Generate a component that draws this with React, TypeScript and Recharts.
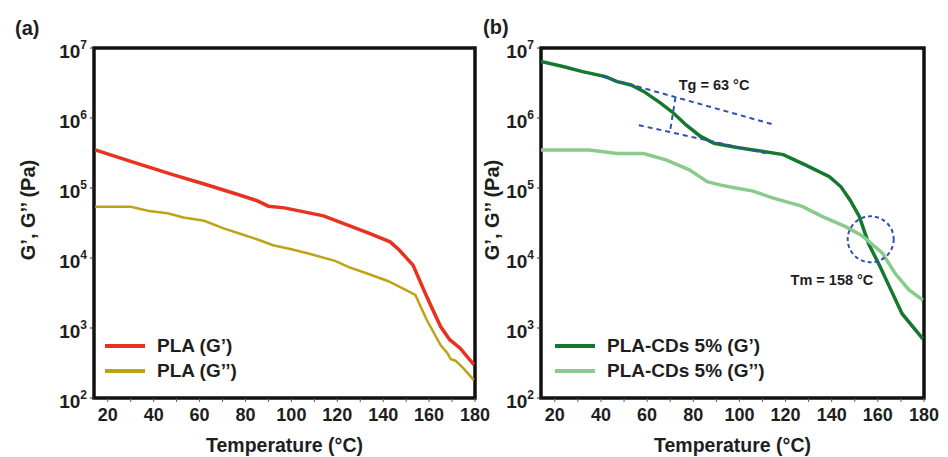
import React from "react";
import {
  LineChart,
  Line,
  XAxis,
  YAxis,
  Legend,
  ReferenceArea,
  ReferenceLine,
  ReferenceDot,
} from "recharts";

// (a) neat PLA
const plaG1Temp = [14.5, 30, 49, 62, 76, 85, 90, 97, 114, 124, 134, 143, 147, 153, 159, 165, 169, 173.5, 179.5];
const plaG1 = [3.5e5, 2.4e5, 1.53e5, 1.14e5, 8.2e4, 6.6e4, 5.5e4, 5.2e4, 4.0e4, 3.0e4, 2.25e4, 1.7e4, 1.3e4, 7.9e3, 2.8e3, 1.05e3, 680, 515, 300];
const plaG2Temp = [14.5, 30, 38, 46, 53, 62, 70.5, 78, 85, 92, 100, 107, 119, 125, 133, 142, 147, 154, 159, 165, 168, 169.5, 171.5, 175, 179.5];
const plaG2 = [5.4e4, 5.4e4, 4.7e4, 4.35e4, 3.8e4, 3.4e4, 2.65e4, 2.2e4, 1.85e4, 1.52e4, 1.33e4, 1.17e4, 9.1e3, 7.4e3, 6.0e3, 4.7e3, 3.9e3, 2.96e3, 1.3e3, 572, 435, 357, 341, 265, 180];

// (b) PLA-CDs 5%
const cdG1Temp = [14, 24, 32, 42, 47, 53, 58.5, 66, 71.5, 77, 83, 89, 99, 106, 119, 129, 139, 144, 148, 152, 156, 161, 165, 170.5, 179.5];
const cdG1 = [6.4e6, 5.4e6, 4.6e6, 3.9e6, 3.3e6, 2.96e6, 2.4e6, 1.62e6, 1.17e6, 7.9e5, 5.5e5, 4.35e5, 3.8e5, 3.5e5, 3.0e5, 2.1e5, 1.45e5, 1.04e5, 6.7e4, 3.9e4, 1.6e4, 7.5e3, 3.9e3, 1.6e3, 700];
const cdG2Temp = [14, 35, 47, 58.5, 68.5, 78.5, 86, 92, 99, 105.5, 114, 127, 136, 146, 153, 162, 167.5, 173.5, 179.5];
const cdG2 = [3.5e5, 3.5e5, 3.1e5, 3.1e5, 2.5e5, 1.8e5, 1.23e5, 1.1e5, 9.9e4, 9.1e4, 7.3e4, 5.5e4, 3.9e4, 2.8e4, 2.1e4, 1.17e4, 6.0e3, 3.5e3, 2.5e3];

const xTicks = [20, 30, 40, 50, 60, 70, 80, 90, 100, 110, 120, 130, 140, 150, 160, 170, 180];
const yTicks = [1e2, 1e3, 1e4, 1e5, 1e6, 1e7];

// Tg tangents and Tm circle (annotation, in data units)
const tgUpper = [{ x: 40.5, y: 3.9e6 }, { x: 114, y: 8.2e5 }];
const tgLower = [{ x: 56.4, y: 7.9e5 }, { x: 111.4, y: 3.13e5 }];
const tgBracket = [{ x: 72.3, y: 1.98e6 }, { x: 69.9, y: 6.4e5 }];

const RED = "#e8321f";
const OLIVE = "#bfa316";
const DGREEN = "#16772f";
const LGREEN = "#88cb8c";
const BLUE = "#3150b4";
const INK = "#1e1e1e";
const FONT = "'Liberation Sans', Arial, sans-serif";

const toPts = (t: number[], v: number[]) => t.map((x, i) => ({ t: x, v: v[i] }));

const LogTick = (props: any) => {
  const { x, y, payload } = props;
  const exp = Math.round(Math.log10(payload.value));
  return (
    <text x={x - 1} y={y + 10} textAnchor="end" fontSize={19} fontWeight="bold" fill={INK}>
      <tspan>10</tspan>
      <tspan dy={-9} fontSize={12}>
        {exp}
      </tspan>
    </text>
  );
};

const YTitle = (cx: number) => (props: any) => {
  const cy = 210;
  return (
    <text
      x={cx}
      y={cy}
      transform={`rotate(-90 ${cx} ${cy})`}
      textAnchor="middle"
      dominantBaseline="central"
      fontSize={20}
      fontWeight="bold"
      fill={INK}
    >
      G’, G’’ (Pa)
    </text>
  );
};

const LegendBox = (props: any) => {
  const { payload } = props;
  return (
    <div>
      {(payload || []).map((p: any) => (
        <div key={p.value} style={{ display: "flex", alignItems: "center", height: 25 }}>
          <div style={{ width: 40, height: 4, background: p.color, marginRight: 12 }} />
          <span style={{ fontSize: 19, fontWeight: "bold", color: INK, whiteSpace: "nowrap" }}>{p.value}</span>
        </div>
      ))}
    </div>
  );
};

function Panel({
  width,
  yAxisWidth,
  rightMargin,
  titleX,
  legendLeft,
  children,
}: {
  width: number;
  yAxisWidth: number;
  rightMargin: number;
  titleX: number;
  legendLeft: number;
  children: React.ReactNode;
}) {
  return (
    <LineChart width={width} height={457} margin={{ top: 48, right: rightMargin, bottom: 0, left: 0 }}>
      <XAxis
        dataKey="t"
        type="number"
        domain={[14, 180]}
        ticks={xTicks}
        allowDataOverflow
        height={59}
        axisLine={false}
        tickLine={{ stroke: "#555" }}
        tickSize={4}
        tickMargin={6}
        tick={{ fontSize: 18, fontWeight: "bold", fill: INK }}
        tickFormatter={(v: number) => (v % 20 === 0 ? String(v) : "")}
        label={{
          value: "Temperature (°C)",
          position: "insideBottom",
          offset: 5,
          fontSize: 19.5,
          fontWeight: "bold",
          fill: INK,
        }}
      />
      <YAxis
        type="number"
        scale="log"
        domain={[1e2, 1e7]}
        ticks={yTicks}
        allowDataOverflow
        width={yAxisWidth}
        axisLine={false}
        tickLine={{ stroke: "#333" }}
        tickSize={4}
        tickMargin={2}
        tick={<LogTick />}
        label={YTitle(titleX)}
      />
      <ReferenceArea x1={14} x2={180} y1={1e2} y2={1e7} fill="none" stroke="#111" strokeWidth={3.5} />
      {children}
      <Legend
        layout="vertical"
        align="center"
        verticalAlign="middle"
        content={<LegendBox />}
        wrapperStyle={{ left: legendLeft, top: 333, width: "auto" }}
      />
    </LineChart>
  );
}

export default function App() {
  return (
    <div style={{ position: "relative", width: 948, height: 457, background: "#fff", fontFamily: FONT }}>
      <style>{"body{margin:0}"}</style>
      <div style={{ position: "absolute", left: 15, top: 17, fontSize: 20, fontWeight: "bold", color: INK }}>(a)</div>
      <div style={{ position: "absolute", left: 483, top: 16, fontSize: 20, fontWeight: "bold", color: INK }}>(b)</div>

      <div style={{ position: "absolute", left: 0, top: 0 }}>
        <Panel width={500} yAxisWidth={94} rightMargin={25} titleX={28} legendLeft={105}>
          <Line
            data={toPts(plaG1Temp, plaG1)}
            dataKey="v"
            name="PLA (G’)"
            stroke={RED}
            strokeWidth={3.5}
            dot={false}
            isAnimationActive={false}
          />
          <Line
            data={toPts(plaG2Temp, plaG2)}
            dataKey="v"
            name="PLA (G’’)"
            stroke={OLIVE}
            strokeWidth={2.5}
            dot={false}
            isAnimationActive={false}
          />
        </Panel>
      </div>

      <div style={{ position: "absolute", left: 478, top: 0 }}>
        <Panel width={470} yAxisWidth={63} rightMargin={24} titleX={14} legendLeft={77}>
          <Line
            data={toPts(cdG1Temp, cdG1)}
            dataKey="v"
            name="PLA-CDs 5% (G’)"
            stroke={DGREEN}
            strokeWidth={3.5}
            dot={false}
            isAnimationActive={false}
          />
          <Line
            data={toPts(cdG2Temp, cdG2)}
            dataKey="v"
            name="PLA-CDs 5% (G’’)"
            stroke={LGREEN}
            strokeWidth={3.5}
            dot={false}
            isAnimationActive={false}
          />
          <ReferenceLine segment={tgUpper} stroke={BLUE} strokeWidth={2} strokeDasharray="5 4" />
          <ReferenceLine segment={tgLower} stroke={BLUE} strokeWidth={2} strokeDasharray="5 4" />
          <ReferenceLine segment={tgBracket} stroke={BLUE} strokeWidth={2} strokeDasharray="5 4" />
          <ReferenceDot
            x={156.9}
            y={1.85e4}
            r={23}
            fill="none"
            stroke={BLUE}
            strokeWidth={2}
            strokeDasharray="4 3"
          />
          <ReferenceDot
            x={89}
            y={2.95e6}
            r={0}
            fill="none"
            stroke="none"
            label={{ value: "Tg = 63 °C", position: "center", fontSize: 14.5, fontWeight: "bold", fill: INK }}
          />
          <ReferenceDot
            x={140.1}
            y={4.85e3}
            r={0}
            fill="none"
            stroke="none"
            label={{ value: "Tm = 158 °C", position: "center", fontSize: 14.5, fontWeight: "bold", fill: INK }}
          />
        </Panel>
      </div>
    </div>
  );
}
